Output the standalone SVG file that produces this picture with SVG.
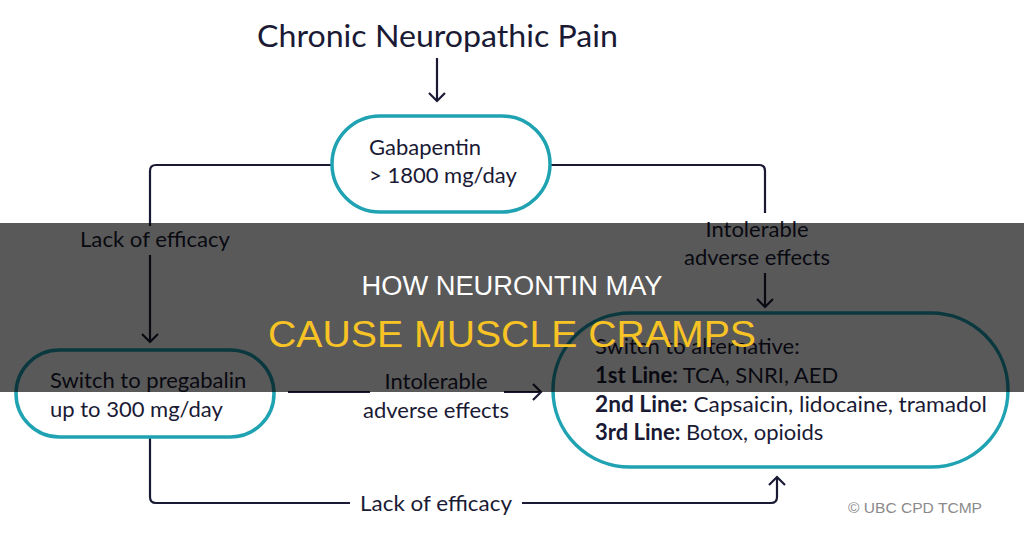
<svg xmlns="http://www.w3.org/2000/svg" width="1024" height="535" viewBox="0 0 1024 535">
<defs>
<style>
.t{font-family:Lato,"Open Sans","Liberation Sans",sans-serif;fill:#1a1a35;font-size:22px}
.b{font-weight:bold}
.node{fill:#ffffff;stroke:#1fa2b2;stroke-width:3.5}
.c{fill:none;stroke:#1a1a35;stroke-width:2.2}
.ttl{font-family:"Liberation Sans",Arial,sans-serif;text-anchor:middle}
</style>
<marker id="ah" markerUnits="userSpaceOnUse" markerWidth="14" markerHeight="20" viewBox="0 0 14 20" refX="11" refY="10" orient="auto">
<path d="M3,2 L11,10 L3,18" fill="none" stroke="#1a1a35" stroke-width="2.2"/>
</marker>
</defs>
<rect x="0" y="0" width="1024" height="535" fill="#ffffff"/>
<g id="title-node">
<text class="t" x="257" y="47" style="font-size:30px" textLength="361" lengthAdjust="spacingAndGlyphs">Chronic Neuropathic Pain</text>
</g>
<g id="connectors">
<path class="c" d="M437,58 V101" marker-end="url(#ah)"/>
<path class="c" d="M332,165 H156 Q150,165 150,171 V226"/>
<path class="c" d="M150,255 V342" marker-end="url(#ah)"/>
<path class="c" d="M550,165 H759 Q765,165 765,171 V213"/>
<path class="c" d="M765,273 V307" marker-end="url(#ah)"/>
<path class="c" d="M288,392 H370"/>
<path class="c" d="M504,392 H541" marker-end="url(#ah)"/>
<path class="c" d="M150,437 V497 Q150,503 156,503 H350"/>
<path class="c" d="M522,503 H771 Q777,503 777,497 V477" marker-end="url(#ah)"/>
<text class="t" x="155" y="247" text-anchor="middle" textLength="150" lengthAdjust="spacingAndGlyphs">Lack of efficacy</text>
<text class="t" x="757" y="237" text-anchor="middle">Intolerable</text>
<text class="t" x="757" y="265" text-anchor="middle">adverse effects</text>
<text class="t" x="436" y="389" text-anchor="middle">Intolerable</text>
<text class="t" x="436" y="418" text-anchor="middle">adverse effects</text>
<text class="t" x="436" y="511" text-anchor="middle" textLength="152" lengthAdjust="spacingAndGlyphs">Lack of efficacy</text>
</g>
<g id="gabapentin">
<rect class="node" x="332" y="116" width="218" height="96" rx="48"/>
<text class="t" x="369" y="155">Gabapentin</text>
<text class="t" x="369" y="183">&gt; 1800 mg/day</text>
</g>
<g id="pregabalin">
<rect class="node" x="16" y="350" width="258" height="87" rx="43.5"/>
<text class="t" x="50" y="388">Switch to pregabalin</text>
<text class="t" x="50" y="417">up to 300 mg/day</text>
</g>
<g id="alternative">
<rect class="node" x="553" y="313" width="455" height="154" rx="77"/>
<text class="t" x="595" y="354">Switch to alternative:</text>
<text class="t" x="595" y="383"><tspan class="b">1st Line:</tspan> TCA, SNRI, AED</text>
<text class="t" x="595" y="412" textLength="392" lengthAdjust="spacingAndGlyphs"><tspan class="b">2nd Line:</tspan> Capsaicin, lidocaine, tramadol</text>
<text class="t" x="595" y="440"><tspan class="b">3rd Line:</tspan> Botox, opioids</text>
</g>
<text x="848" y="513" font-family="'Liberation Sans',Arial,sans-serif" font-size="15" fill="#8a8a8a" textLength="134" lengthAdjust="spacingAndGlyphs">© UBC CPD TCMP</text>
<g id="banner">
<rect x="0" y="223" width="1024" height="169" fill="#000000" fill-opacity="0.65"/>
<text class="ttl" x="512" y="295" font-size="27" fill="#ffffff" textLength="301" lengthAdjust="spacingAndGlyphs">HOW NEURONTIN MAY</text>
<text class="ttl" x="512" y="347" font-size="37" fill="#f7c325" textLength="488" lengthAdjust="spacingAndGlyphs">CAUSE MUSCLE CRAMPS</text>
</g>
</svg>
